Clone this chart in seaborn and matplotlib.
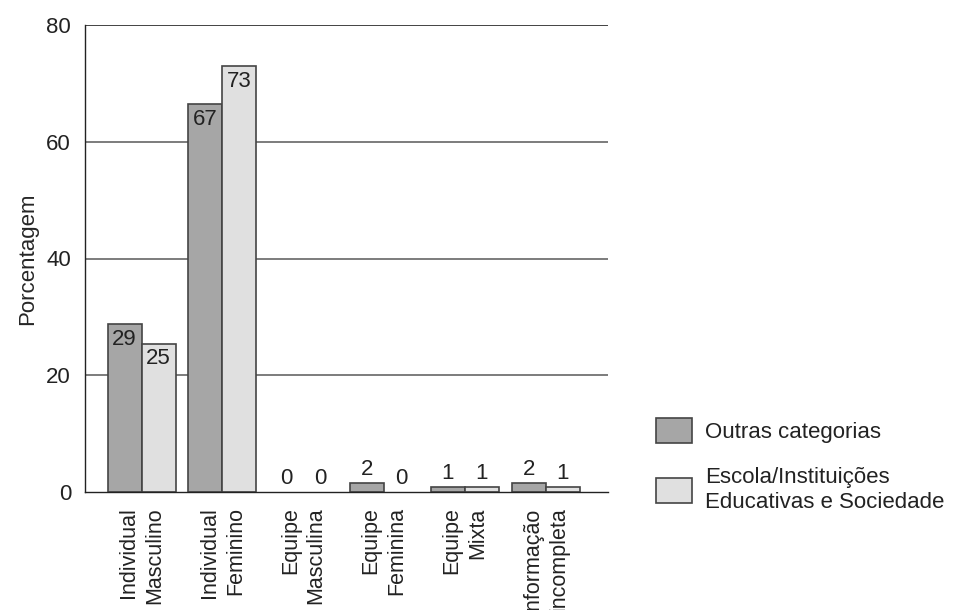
import numpy as np
import pandas as pd
import matplotlib
matplotlib.use('Agg')
import matplotlib.pyplot as plt
import seaborn as sns

# categorias do eixo x (duas linhas cada)
categorias = ['Individual\nMasculino', 'Individual\nFeminino', 'Equipe\nMasculina',
              'Equipe\nFeminina', 'Equipe\nMixta', 'Informação\nincompleta']
series = ['Outras categorias', 'Escola/Instituições\nEducativas e Sociedade']

outras_alt = [28.7, 66.4, 0, 1.6, 0.9, 1.6]
escola_alt = [25.4, 72.9, 0, 0, 0.9, 0.9]
outras_rot = [29, 67, 0, 2, 1, 2]
escola_rot = [25, 73, 0, 0, 1, 1]

cores = ['#a6a6a6', '#e0e0e0']
yticks = [0, 20, 40, 60, 80]
fs = 15.5

sns.set_style('white')
plt.rcParams['font.family'] = ['Liberation Sans', 'DejaVu Sans']
plt.rcParams['font.size'] = fs
plt.rcParams['text.color'] = '#222222'

df = pd.DataFrame({
    'categoria': categorias * 2,
    'serie': [series[0]] * len(categorias) + [series[1]] * len(categorias),
    'valor': outras_alt + escola_alt,
})

fig = plt.figure(figsize=(9.57, 6.10), dpi=100)
ax = fig.add_axes([85 / 957, 118 / 610, (608 - 85) / 957, (492 - 25) / 610])

ax.set_axisbelow(True)
for y in yticks[1:]:
    ax.axhline(y, color='#222222' if y == 80 else '#666666', lw=1.2, zorder=0)

sns.barplot(data=df, x='categoria', y='valor', hue='serie', palette=cores,
            width=0.84, gap=0, edgecolor='#444444', linewidth=1.2,
            saturation=1, ax=ax, legend=True)

# rotulos das barras
for cont, rots in zip(ax.containers, [outras_rot, escola_rot]):
    for barra, r in zip(cont, rots):
        cx = barra.get_x() + barra.get_width() / 2
        h = barra.get_height()
        if h == 0:
            barra.set_linewidth(0)
        if h > 10:
            ax.annotate(str(r), (cx, h), xytext=(0, -3), textcoords='offset points',
                        ha='center', va='top', fontsize=16, color='#222222')
        else:
            ax.annotate(str(r), (cx, h), xytext=(0, 2), textcoords='offset points',
                        ha='center', va='bottom', fontsize=16, color='#222222')

ax.set_xlim(-0.7, 5.77)
ax.set_ylim(0, 80)
ax.set_yticks(yticks)
ax.tick_params(axis='y', length=6, width=1, color='#222222', pad=4, labelsize=16,
               labelcolor='#222222')
ax.set_xticks(range(len(categorias)))
ax.set_xticklabels(categorias, rotation=90, ha='center', va='top', linespacing=1.3)
for t in ax.get_xticklabels():
    t.set_multialignment('right')
ax.tick_params(axis='x', length=0, pad=11, labelsize=fs, labelcolor='#222222')
ax.set_xticks([i + 0.5 for i in range(5)] + [5.77], minor=True)
ax.tick_params(axis='x', which='minor', length=8, width=1, color='#222222')

ax.set_xlabel('')
ax.set_ylabel('Porcentagem', fontsize=16, labelpad=6)
for s in ['top', 'right']:
    ax.spines[s].set_visible(False)
for s in ['left', 'bottom']:
    ax.spines[s].set_color('#222222')
    ax.spines[s].set_linewidth(1)

ax.legend(loc='upper left', bbox_to_anchor=(636 / 957, 1 - 398 / 610),
          bbox_transform=fig.transFigure, frameon=False, handlelength=1.6,
          handleheight=1.35, labelspacing=1.1, handletextpad=0.6, fontsize=16)

fig.savefig('out.png', dpi=100)
